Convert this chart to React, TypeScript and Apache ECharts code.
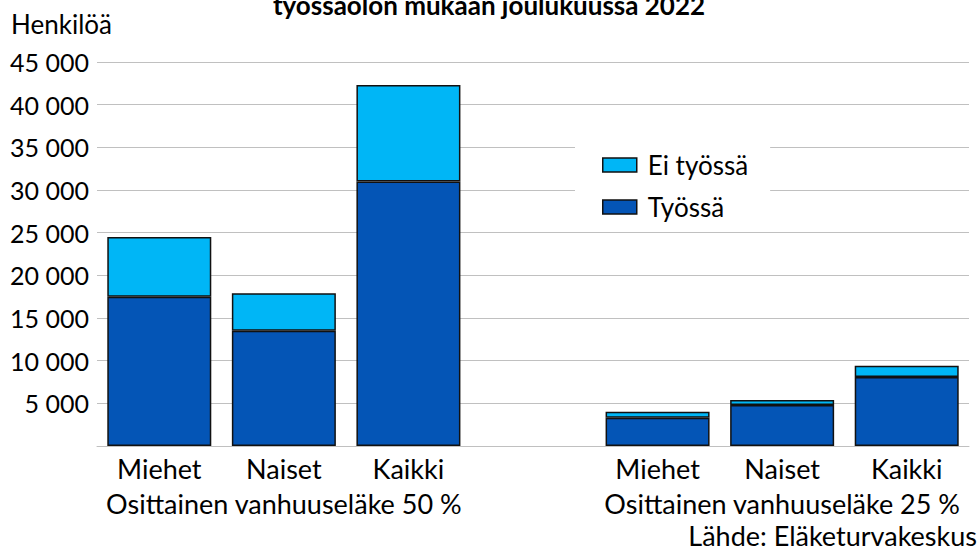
import React, { useEffect, useRef } from "react";
import * as echarts from "echarts";

const categories = ["Miehet", "Naiset", "Kaikki", "", "Miehet", "Naiset", "Kaikki"];
const groupLabels = ["", "Osittainen vanhuuseläke 50 %", "", "", "", "Osittainen vanhuuseläke 25 %", ""];
const tyossa = [17500, 13500, 31000, null, 3300, 4800, 8100];
const eiTyossa = [7000, 4400, 11300, null, 700, 600, 1300];
const yTicks = { min: 0, max: 45000, interval: 5000 };

const FONT = "Lato";

export default function App() {
  const ref = useRef<HTMLDivElement>(null);
  useEffect(() => {
    const chart = echarts.init(ref.current!, null, { renderer: "svg" });
    const fmt = (v: number) => (v === 0 ? "" : String(v).replace(/\B(?=(\d{3})+(?!\d))/g, " "));
    chart.setOption({
      animation: false,
      textStyle: { fontFamily: FONT },
      grid: { left: 97, right: 9, top: 62, bottom: 103, containLabel: false },
      graphic: [
        {
          type: "text",
          left: "center",
          top: -8,
          style: {
            text: "työssäolon mukaan joulukuussa 2022",
            font: `bold 26px ${FONT}`,
            fill: "#000",
          },
        },
        {
          type: "text",
          left: 11,
          top: 11,
          style: { text: "Henkilöä", font: `26px ${FONT}`, fill: "#000" },
        },
        {
          type: "text",
          right: 1,
          top: 522,
          style: { text: "Lähde: Eläketurvakeskus", font: `27px ${FONT}`, fill: "#000" },
        },
      ],
      legend: {
        data: ["Ei työssä", "Työssä"],
        orient: "vertical",
        left: 575,
        top: 144,
        backgroundColor: "#fff",
        padding: [8, 22, 8, 27],
        icon: "rect",
        itemWidth: 34,
        itemHeight: 14,
        itemGap: 16,
        itemStyle: { borderColor: "#111", borderWidth: 1.5 },
        textStyle: { fontSize: 26, color: "#000", fontFamily: FONT, padding: [0, 0, 0, 6] },
      },
      xAxis: [
        {
          type: "category",
          data: categories,
          axisLine: { lineStyle: { color: "#c0c0c0", width: 1 } },
          axisTick: { show: false },
          axisLabel: { color: "#000", fontSize: 27, margin: 9, interval: 0 },
        },
        {
          type: "category",
          data: groupLabels,
          position: "bottom",
          offset: 35,
          axisLine: { show: false },
          axisTick: { show: false },
          axisLabel: { color: "#000", fontSize: 27, margin: 9, interval: 0 },
        },
      ],
      yAxis: {
        type: "value",
        ...yTicks,
        axisLine: { show: false },
        axisTick: { show: false },
        splitLine: { lineStyle: { color: "#c0c0c0", width: 1 } },
        axisLabel: { color: "#000", fontSize: 25, margin: 8, formatter: fmt },
      },
      series: [
        {
          name: "Työssä",
          type: "bar",
          stack: "a",
          data: tyossa,
          barWidth: 104,
          itemStyle: { color: "#0455B6", borderColor: "#111", borderWidth: 1.5 },
        },
        {
          name: "Ei työssä",
          type: "bar",
          stack: "a",
          data: eiTyossa,
          barWidth: 104,
          itemStyle: { color: "#00B6F6", borderColor: "#111", borderWidth: 1.5 },
        },
      ],
    });
    return () => chart.dispose();
  }, []);
  return <div ref={ref} style={{ width: 978, height: 549, position: "absolute", left: 0, top: 0 }} />;
}
